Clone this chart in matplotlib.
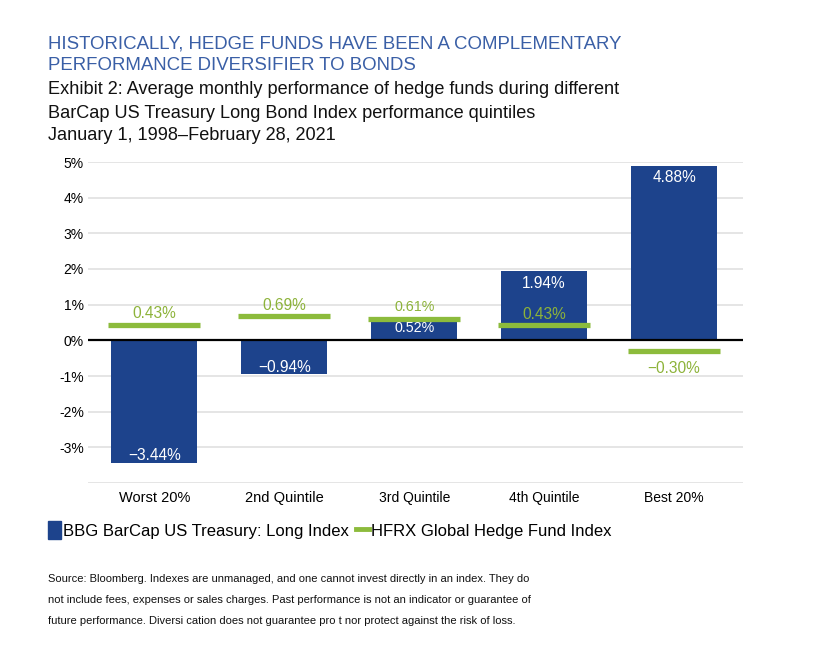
import matplotlib
matplotlib.use("Agg")
import matplotlib.pyplot as plt
from matplotlib.patches import Patch
from matplotlib.lines import Line2D
import numpy as np

SANS = 'Liberation Sans'

categories = ["Worst 20%", "2nd Quintile", "3rd Quintile", "4th Quintile", "Best 20%"]
treasury = [-3.44, -0.94, 0.52, 1.94, 4.88]
hedge = [0.43, 0.69, 0.61, 0.43, -0.30]
treasury_labels = ["\u22123.44%", "\u22120.94%", "0.52%", "1.94%", "4.88%"]
hedge_labels = ["0.43%", "0.69%", "0.61%", "0.43%", "\u22120.30%"]
yticks = [-3, -2, -1, 0, 1, 2, 3, 4, 5]
ytick_labels = ["-3%", "-2%", "-1%", "0%", "1%", "2%", "3%", "4%", "5%"]

BLUE = "#1d438c"
GREEN = "#8cbb3c"
GREEN_TXT = "#8db33a"

W, H = 818, 663
fig = plt.figure(figsize=(W / 100, H / 100), dpi=100)
ax = fig.add_axes([88 / W, 1 - 483 / H, (743 - 88) / W, (483 - 162) / H])

x = np.arange(len(categories))
ax.set_xlim(-0.51, 4.53)
ax.set_ylim(-4, 5)

for y in range(-4, 6):
    if y != 0:
        ax.axhline(y, color="#e3e3e3", lw=1.3, zorder=0)
ax.axhline(0, color="black", lw=1.6, zorder=3)

bw = 0.66
ax.bar(x, treasury, width=bw, color=BLUE, zorder=2)
gw = 0.71
ax.hlines(hedge, x - gw / 2, x + gw / 2, color=GREEN, lw=3.8, zorder=4)

for s in ax.spines.values():
    s.set_visible(False)
ax.set_yticks(yticks)
ax.set_yticklabels(ytick_labels, fontfamily=SANS, fontsize=10)
ax.tick_params(axis="y", length=0, pad=3)
ax.set_xticks(x)
ax.set_xticklabels(categories, fontfamily=SANS, fontsize=10.5)
ax.tick_params(axis="x", length=0, pad=6)
for i, t in enumerate(ax.get_xticklabels()):
    if i >= 2:
        t.set_fontsize(10)

tr_off = [0.2, 0.18, 0.17, 0.35, 0.32]
hd_off = [0.33, 0.28, 0.33, 0.3, -0.5]
for i in range(len(categories)):
    ty = treasury[i] + tr_off[i] if treasury[i] < 0 else treasury[i] - tr_off[i]
    ax.text(x[i], ty, treasury_labels[i], color="white", ha="center", va="center",
            fontsize=11.2 if i != 2 else 10.3, fontfamily=SANS, zorder=5)
    ax.text(x[i], hedge[i] + hd_off[i], hedge_labels[i], color=GREEN_TXT,
            ha="center", va="center", fontsize=11.2 if i != 2 else 10.3,
            fontfamily=SANS, zorder=5)

fig.text(48 / W, 1 - 44 / H, "HISTORICALLY, HEDGE FUNDS HAVE BEEN A COMPLEMENTARY",
         color="#3a5fa6", fontsize=13.4, fontfamily=SANS, va="center")
fig.text(48 / W, 1 - 65 / H, "PERFORMANCE DIVERSIFIER TO BONDS",
         color="#3a5fa6", fontsize=13.4, fontfamily=SANS, va="center")
fig.text(48 / W, 1 - 90 / H, "Exhibit 2: Average monthly performance of hedge funds during different",
         color="#111111", fontsize=13.1, fontfamily=SANS, va="center")
fig.text(48 / W, 1 - 113 / H, "BarCap US Treasury Long Bond Index performance quintiles",
         color="#111111", fontsize=13.1, fontfamily=SANS, va="center")
fig.text(48 / W, 1 - 135 / H, "January 1, 1998\u2013February 28, 2021",
         color="#111111", fontsize=13.1, fontfamily=SANS, va="center")

handles = [Patch(facecolor=BLUE, edgecolor=BLUE),
           Line2D([0], [0], color=GREEN, lw=3.5)]
fig.legend(handles, ["BBG BarCap US Treasury: Long Index", "HFRX Global Hedge Fund Index"],
           loc="center left", bbox_to_anchor=(33 / W, 1 - 530 / H), ncol=2, frameon=False,
           prop={"family": SANS, "size": 12}, handlelength=0.75, handleheight=1.2,
           handletextpad=0.15, columnspacing=0.45)

src = ["Source: Bloomberg. Indexes are unmanaged, and one cannot invest directly in an index. They do",
       "not include fees, expenses or sales charges. Past performance is not an indicator or guarantee of",
       "future performance. Diversi cation does not guarantee pro t nor protect against the risk of loss."]
for k, line in enumerate(src):
    fig.text(48 / W, 1 - (579 + 21 * k) / H, line, color="#111111", fontsize=8.0,
             fontfamily=SANS, va="center")

fig.savefig("out.png", dpi=100, facecolor="white")
